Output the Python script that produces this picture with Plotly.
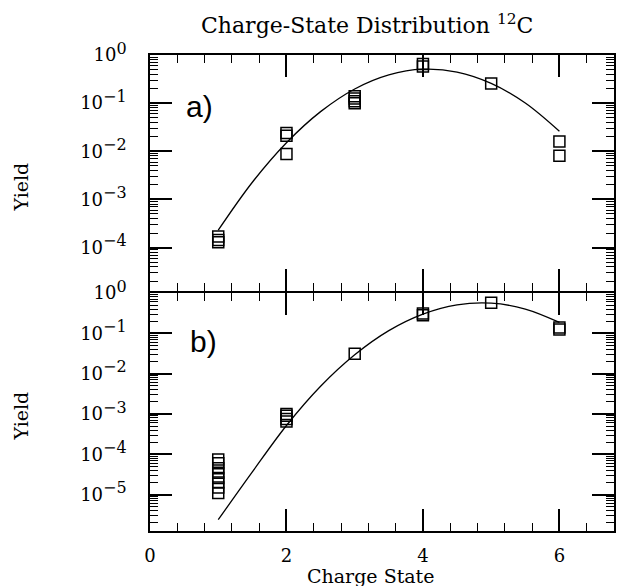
import plotly.graph_objects as go

# ---------------- data ----------------
# panel a) measured yields
a_x = [1, 1, 1, 2, 2, 2, 3, 3, 3, 3, 4, 4, 5, 6, 6]
a_y = [1.7e-4, 1.45e-4, 1.3e-4, 0.024, 0.021, 0.0088,
       0.14, 0.125, 0.11, 0.10, 0.65, 0.58, 0.255, 0.016, 0.0081]
# panel a) fitted curve
a_fit_x = [1, 1.5, 2, 2.5, 3, 3.5, 4, 4.5, 5, 5.5, 6]
a_fit_y = [2.3e-4, 2.28e-3, 1.51e-2, 6.67e-2, 0.197, 0.386, 0.507, 0.443, 0.258, 0.1005, 0.026]

# panel b) measured yields
b_x = [1, 1, 1, 1, 1, 1, 1, 1, 2, 2, 2, 2, 3, 4, 4, 5, 6, 6]
b_y = [7.5e-5, 6e-5, 4.5e-5, 3.5e-5, 2.6e-5, 2e-5, 1.5e-5, 1.1e-5,
       1.0e-3, 9e-4, 7.5e-4, 6.5e-4, 0.031, 0.31, 0.28, 0.575, 0.14, 0.125]
# panel b) fitted curve
b_fit_x = [1, 1.5, 2, 2.5, 3, 3.5, 4, 4.5, 5, 5.5, 6]
b_fit_y = [2.4e-6, 3.68e-5, 5.2e-4, 4.89e-3, 2.95e-2, 0.117, 0.30, 0.509, 0.56, 0.401, 0.1875]

a_tickvals = [1, 1e-1, 1e-2, 1e-3, 1e-4]
a_exps = ["0", "−1", "−2", "−3", "−4"]
b_tickvals = [1, 1e-1, 1e-2, 1e-3, 1e-4, 1e-5]
b_exps = ["0", "−1", "−2", "−3", "−4", "−5"]

title_text = "Charge-State Distribution <sup>12</sup>C"
x_title = "Charge State"
y_title = "Yield"

# ---------------- figure ----------------
SERIF = "DejaVu Serif"


def pow_labels(exps):
    return ["10<sup><span style='font-size:16px'>%s</span></sup>" % e for e in exps]


mk = dict(symbol="square-open", size=11, color="black", line=dict(width=1.5, color="black"))
ln = dict(color="black", width=1.3)

fig = go.Figure()
fig.add_trace(go.Scatter(x=a_fit_x, y=a_fit_y, mode="lines", line=ln, line_shape="spline",
                         xaxis="x", yaxis="y", showlegend=False))
fig.add_trace(go.Scatter(x=a_x, y=a_y, mode="markers", marker=mk,
                         xaxis="x", yaxis="y", showlegend=False))
fig.add_trace(go.Scatter(x=b_fit_x, y=b_fit_y, mode="lines", line=ln, line_shape="spline",
                         xaxis="x2", yaxis="y2", showlegend=False))
fig.add_trace(go.Scatter(x=b_x, y=b_y, mode="markers", marker=mk,
                         xaxis="x2", yaxis="y2", showlegend=False))

xcommon = dict(range=[0, 6.8], tickmode="linear", tick0=0, dtick=2,
               ticks="inside", ticklen=22, tickwidth=1.5, tickcolor="black",
               minor=dict(ticks="inside", ticklen=8, dtick=0.4, tick0=0, tickcolor="black", tickwidth=1),
               showline=True, linecolor="black", linewidth=1.5, mirror="allticks",
               showgrid=False, zeroline=False,
               tickfont=dict(family=SERIF, size=18, color="black"))
ycommon = dict(type="log", ticks="inside", ticklen=22, tickwidth=1.5, tickcolor="black",
               minor=dict(ticks="inside", ticklen=8, dtick="D1", tickcolor="black", tickwidth=1),
               showline=True, linecolor="black", linewidth=1.5, mirror="allticks",
               showgrid=False, zeroline=False, ticklabelstandoff=18,
               tickfont=dict(family=SERIF, size=18, color="black"))

fig.update_layout(
    width=623, height=586,
    margin=dict(l=150, r=7, t=55, b=55),
    paper_bgcolor="white", plot_bgcolor="white",
    xaxis=dict(xcommon, anchor="y", showticklabels=False),
    yaxis=dict(ycommon, domain=[0.5042, 1], range=[-4.9, 0], anchor="x",
               tickmode="array", tickvals=a_tickvals, ticktext=pow_labels(a_exps)),
    xaxis2=dict(xcommon, anchor="y2", matches="x", showticklabels=True, ticklabelstandoff=8),
    yaxis2=dict(ycommon, domain=[0, 0.5], range=[-5.9, 0], anchor="x2",
                tickmode="array", tickvals=b_tickvals, ticktext=pow_labels(b_exps)),
)

fig.add_annotation(text=title_text, xref="paper", yref="paper", x=0.468, y=1.065,
                   showarrow=False, font=dict(family=SERIF, size=22, color="black"),
                   xanchor="center", yanchor="middle")
fig.add_annotation(text=x_title, xref="paper", yref="paper", x=0.476, y=-0.094,
                   showarrow=False, font=dict(family=SERIF, size=19, color="black"),
                   xanchor="center", yanchor="middle")
for yy in (0.7227, 0.2416):
    fig.add_annotation(text=y_title, xref="paper", yref="paper", x=-0.279, y=yy, textangle=-90,
                       showarrow=False, font=dict(family=SERIF, size=19, color="black"),
                       xanchor="center", yanchor="middle")
fig.add_annotation(text="a)", xref="paper", yref="paper", x=0.107, y=0.891, showarrow=False,
                   font=dict(family="Liberation Sans", size=30, color="black"),
                   xanchor="center", yanchor="middle")
fig.add_annotation(text="b)", xref="paper", yref="paper", x=0.116, y=0.399, showarrow=False,
                   font=dict(family="Liberation Sans", size=30, color="black"),
                   xanchor="center", yanchor="middle")

fig.write_html("out.html")
